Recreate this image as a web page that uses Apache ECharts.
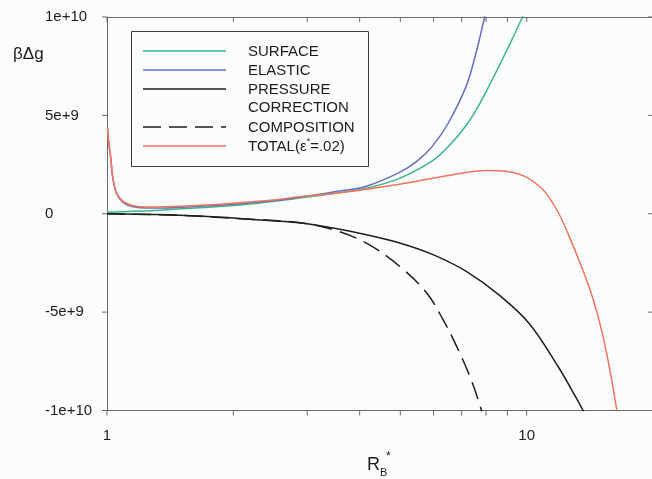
<!DOCTYPE html>
<html>
<head>
<meta charset="utf-8">
<script src="https://cdn.jsdelivr.net/npm/echarts@6/dist/echarts.min.js"></script>
<style>
html, body { margin: 0; padding: 0; background: #fbfcfe; }
#chart { width: 652px; height: 479px; }
</style>
</head>
<body>
<div id="chart"></div>
<script>
// Axis ticks and labels
const xTickValues = [1, 2, 3, 4, 5, 6, 7, 8, 9, 10];
const xRange = [1, 20];
const yTickValues = [-1e10, -5e9, 0, 5e9, 1e10];
const yTickLabels = ['-1e+10', '-5e+9', '0', '5e+9', '1e+10'];

// [R_B*, beta*delta g] pairs for each contribution
const surface = [
  [1.0, 0.08e9], [1.3, 0.17e9], [1.665, 0.30e9], [2.19, 0.50e9], [2.88, 0.80e9],
  [3.46, 1.03e9], [4.15, 1.30e9], [4.98, 1.80e9], [5.97, 2.70e9], [6.5, 3.40e9],
  [7.18, 4.50e9], [7.73, 5.60e9], [8.5, 7.30e9], [9.2, 8.80e9], [9.77, 10.0e9],
  [10.2, 10.9e9]
];
const elastic = [
  [1.003, 4.35e9], [1.01, 3.55e9], [1.0205, 2.85e9], [1.0317, 1.85e9], [1.0546, 1.0e9],
  [1.0935, 0.57e9], [1.155, 0.36e9], [1.243, 0.29e9], [1.438, 0.31e9], [1.893, 0.44e9],
  [2.49, 0.66e9], [2.88, 0.84e9], [3.46, 1.10e9], [4.15, 1.40e9], [4.98, 2.10e9],
  [5.5, 2.70e9], [5.97, 3.45e9], [6.5, 4.60e9], [7.18, 6.50e9], [7.6, 8.30e9],
  [7.94, 10.0e9], [8.2, 11.3e9]
];
const pressure = [
  [1.0, 0], [1.3, -0.04e9], [1.665, -0.12e9], [2.19, -0.28e9], [2.88, -0.46e9],
  [3.46, -0.73e9], [4.15, -1.07e9], [4.98, -1.49e9], [5.98, -2.08e9], [7.18, -2.93e9],
  [8.62, -4.15e9], [10.16, -5.6e9], [11.87, -7.75e9], [13.0, -9.2e9], [13.7, -10.1e9],
  [14.0, -10.6e9]
];
const composition = [
  [1.0, 0], [1.3, -0.04e9], [1.665, -0.13e9], [2.19, -0.28e9], [2.88, -0.46e9],
  [3.46, -0.81e9], [4.15, -1.49e9], [4.98, -2.67e9], [5.78, -4.03e9], [6.32, -5.38e9],
  [6.81, -6.74e9], [7.32, -8.26e9], [7.73, -9.7e9], [7.9, -10.4e9]
];
const total = [
  [1.003, 4.4e9], [1.01, 3.6e9], [1.0205, 2.9e9], [1.0317, 1.9e9], [1.0546, 1.05e9],
  [1.0935, 0.62e9], [1.155, 0.41e9], [1.243, 0.34e9], [1.438, 0.37e9], [1.893, 0.50e9],
  [2.49, 0.70e9], [2.88, 0.86e9], [3.46, 1.03e9], [4.15, 1.25e9], [4.98, 1.50e9],
  [5.97, 1.80e9], [7.18, 2.10e9], [8.0, 2.20e9], [8.6, 2.19e9], [9.27, 2.10e9],
  [9.9, 1.90e9], [10.5, 1.55e9], [11.12, 1.05e9], [11.9, 0.05e9], [12.6, -1.1e9],
  [13.4, -2.5e9], [14.1, -3.75e9], [14.7, -5.0e9], [15.3, -6.5e9], [15.9, -8.3e9],
  [16.4, -10.0e9], [16.6, -10.7e9]
];

const seriesDefs = [
  { name: 'SURFACE', data: surface, color: '#3db87f', type: 'solid' },
  { name: 'ELASTIC', data: elastic, color: '#6470c2', type: 'solid' },
  { name: 'PRESSURE\nCORRECTION', data: pressure, color: '#1e1e1e', type: 'solid' },
  { name: 'COMPOSITION', data: composition, color: '#1e1e1e', type: [18, 8] },
  { name: 'TOTAL(ε{sup|*}=.02)', data: total, color: '#f4735a', type: 'solid' }
];

const font = 'Liberation Sans, Arial, sans-serif';
const axisColor = '#6a6a6a';
const textColor = '#1c1c1c';
const yMin = yTickValues[0];
const yMax = yTickValues[yTickValues.length - 1];
const tickLen = 5;
const isDecade = v => Math.abs(Math.log10(v) - Math.round(Math.log10(v))) < 1e-9;

const chart = echarts.init(document.getElementById('chart'), null, { renderer: 'canvas' });

// Legend box drawn by hand so the two-line entry lines up like a plotting package's key
const legendRows = [51, 70, 89, 127, 146];
const legendGraphics = [{
  type: 'rect', shape: { x: 131.5, y: 31.5, width: 237, height: 135 },
  style: { fill: 'none', stroke: '#3a3a3a', lineWidth: 1 }
}];
seriesDefs.forEach((s, i) => {
  const y = legendRows[i];
  legendGraphics.push({
    type: 'line', shape: { x1: 143, y1: y, x2: 226, y2: y },
    style: { stroke: s.color, lineWidth: 1.4, lineDash: s.type === 'solid' ? null : s.type }
  });
  legendGraphics.push({
    type: 'text', x: 248, y: y - 8.5,
    style: {
      text: s.name, fill: textColor, font: '15px ' + font, lineHeight: 18.5,
      rich: { sup: { fontSize: 9, fontFamily: font, verticalAlign: 'top', lineHeight: 10, padding: [0, 0, 6, 0] } }
    }
  });
});

const tickStyle = { stroke: axisColor, lineWidth: 1 };

const option = {
  backgroundColor: '#fbfcfe',
  animation: false,
  grid: { left: 107, top: 17, width: 546, height: 393.5, containLabel: false, outerBoundsMode: 'none' },
  xAxis: [
    {
      type: 'log', logBase: 10, min: xRange[0], max: xRange[1], position: 'bottom',
      axisLine: { show: true, onZero: false, lineStyle: { color: axisColor, width: 1 } },
      axisTick: { show: false },
      axisLabel: { show: true, margin: 18, color: textColor, fontSize: 15, fontFamily: font,
        formatter: v => isDecade(v) ? String(Math.round(v)) : '' },
      splitLine: { show: false }, minorTick: { show: false }
    },
    {
      type: 'log', logBase: 10, min: xRange[0], max: xRange[1], position: 'top',
      axisLine: { show: true, onZero: false, lineStyle: { color: axisColor, width: 1 } },
      axisTick: { show: false }, axisLabel: { show: false },
      splitLine: { show: false }, minorTick: { show: false }
    }
  ],
  yAxis: [
    {
      type: 'value', min: yMin, max: yMax, interval: 5e9, position: 'left',
      axisLine: { show: true, onZero: false, lineStyle: { color: axisColor, width: 1 } },
      axisTick: { show: false },
      axisLabel: {
        show: true, color: textColor, fontSize: 15, fontFamily: font, align: 'left', margin: 62,
        formatter: v => { const i = yTickValues.indexOf(v); return i >= 0 ? yTickLabels[i] : ''; }
      },
      splitLine: { show: false }
    },
    {
      type: 'value', min: yMin, max: yMax, interval: 5e9, position: 'right',
      axisLine: { show: true, onZero: false, lineStyle: { color: axisColor, width: 1 } },
      axisTick: { show: false }, axisLabel: { show: false }, splitLine: { show: false }
    }
  ],
  series: seriesDefs.map(s => ({
    name: s.name, type: 'line', xAxisIndex: 0, yAxisIndex: 0,
    data: s.data, showSymbol: false, symbol: 'none', smooth: 0.35,
    lineStyle: { color: s.color, width: 1.5, type: s.type },
    clip: true, silent: true
  })).concat([
    {
      // tick marks on the log axis: outward at the bottom, inward at the top
      type: 'custom', xAxisIndex: 0, yAxisIndex: 0, silent: true, clip: false, z: 5,
      data: xTickValues.map(v => [v, yMin]),
      renderItem: (params, api) => {
        const v = api.value(0);
        const b = api.coord([v, yMin]);
        const t = api.coord([v, yMax]);
        return {
          type: 'group', children: [
            { type: 'line', shape: { x1: b[0], y1: b[1], x2: b[0], y2: b[1] + tickLen }, style: tickStyle },
            { type: 'line', shape: { x1: t[0], y1: t[1], x2: t[0], y2: t[1] + tickLen }, style: tickStyle }
          ]
        };
      }
    },
    {
      // tick marks on the value axis: outward on the left, inward on the right
      type: 'custom', xAxisIndex: 0, yAxisIndex: 0, silent: true, clip: false, z: 5,
      data: yTickValues.map(v => [xRange[0], v]),
      renderItem: (params, api) => {
        const v = api.value(1);
        const l = api.coord([xRange[0], v]);
        const r = api.coord([xRange[1], v]);
        return {
          type: 'group', children: [
            { type: 'line', shape: { x1: l[0] - tickLen, y1: l[1], x2: l[0], y2: l[1] }, style: tickStyle },
            { type: 'line', shape: { x1: r[0] - tickLen, y1: r[1], x2: r[0], y2: r[1] }, style: tickStyle }
          ]
        };
      }
    }
  ]),
  graphic: legendGraphics.concat([
    { type: 'text', x: 13, y: 46, style: { text: 'βΔg', fill: textColor, font: '17px ' + font } },
    { type: 'text', x: 367, y: 456, style: { text: 'R', fill: textColor, font: '18px ' + font } },
    { type: 'text', x: 380, y: 467, style: { text: 'B', fill: textColor, font: '11px ' + font } },
    { type: 'text', x: 386, y: 451, style: { text: '*', fill: textColor, font: '12px ' + font } }
  ])
};

chart.setOption(option);
</script>
</body>
</html>
